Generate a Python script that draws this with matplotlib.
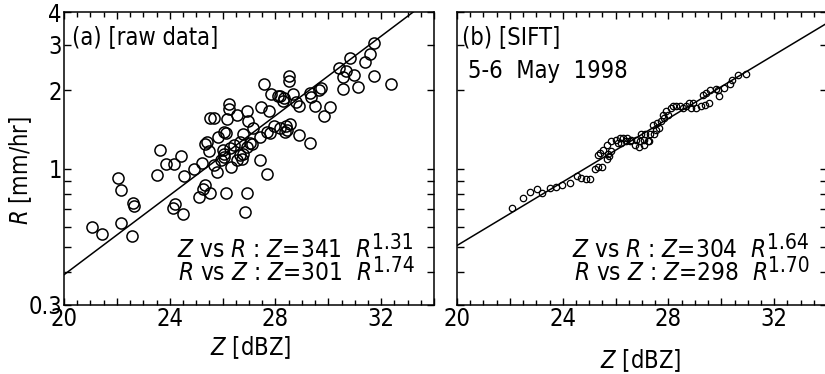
import numpy as np
import matplotlib
matplotlib.use("Agg")
import matplotlib.pyplot as plt
from matplotlib import font_manager
from matplotlib.ticker import FixedLocator, FixedFormatter, MultipleLocator, NullFormatter, FuncFormatter

plt.rcParams['font.family'] = ['DejaVu Sans']
_cond_path = font_manager.findfont(font_manager.FontProperties(family='DejaVu Sans', stretch='condensed'))
HAVE_COND = 'Condensed' in _cond_path
if HAVE_COND:
    plt.rcParams['font.stretch'] = 'condensed'
    plt.rcParams['mathtext.fontset'] = 'custom'
    plt.rcParams['mathtext.rm'] = 'DejaVu Sans:stretch=condensed'
    plt.rcParams['mathtext.it'] = 'DejaVu Sans:style=italic:stretch=condensed'
    plt.rcParams['mathtext.bf'] = 'DejaVu Sans:weight=bold:stretch=condensed'
else:
    plt.rcParams['mathtext.fontset'] = 'dejavusans'

# ---------------- data ----------------
# (a) raw data: reflectivity Z [dBZ] and rain rate R [mm/hr]
raw_z = [31.72, 31.59, 31.38, 30.81, 30.40, 30.68, 30.56, 30.96, 31.72, 32.39,
         31.12, 30.56, 29.63, 29.72, 29.32, 29.34, 29.51, 30.05, 29.82, 28.91,
         28.76, 28.65, 28.33, 28.18, 28.27, 27.83, 28.08, 28.50, 28.50, 27.55,
         27.46, 27.74, 26.92, 26.54, 26.25, 26.26, 26.16, 25.69, 25.53, 26.98,
         27.15, 26.77, 26.67, 26.44, 26.04, 26.12, 25.82, 25.40, 25.34, 25.49,
         26.01, 26.06, 26.04, 25.95, 26.29, 26.77, 27.02, 27.13, 26.92, 26.67,
         26.73, 27.42, 27.68, 27.78, 27.93, 28.18, 28.41, 28.43, 28.54, 28.38,
         28.88, 29.29, 27.40, 24.43, 24.17, 23.86, 23.64, 23.51, 24.55, 24.90,
         25.21, 25.69, 25.78, 26.31, 26.54, 27.68, 22.06, 22.16, 25.32, 25.25,
         25.51, 25.11, 26.12, 26.92, 26.86, 24.20, 24.14, 24.49, 22.60, 22.63,
         22.16, 21.05, 21.43, 22.59]
raw_r = [3.04, 2.77, 2.57, 2.67, 2.43, 2.37, 2.25, 2.29, 2.28, 2.12,
         2.06, 2.03, 2.01, 2.04, 1.96, 1.89, 1.75, 1.73, 1.60, 1.75,
         1.80, 1.93, 1.87, 1.90, 1.82, 1.93, 1.90, 2.28, 2.18, 2.12,
         1.73, 1.66, 1.66, 1.61, 1.78, 1.69, 1.56, 1.57, 1.57, 1.52,
         1.43, 1.36, 1.27, 1.23, 1.39, 1.37, 1.33, 1.27, 1.24, 1.17,
         1.18, 1.14, 1.11, 1.08, 1.20, 1.14, 1.26, 1.25, 1.21, 1.13,
         1.09, 1.33, 1.39, 1.37, 1.46, 1.43, 1.46, 1.41, 1.49, 1.39,
         1.35, 1.26, 1.08, 1.12, 1.04, 1.04, 1.18, 0.95, 0.94, 1.00,
         1.05, 1.03, 0.97, 1.02, 1.08, 0.957, 0.92, 0.83, 0.87, 0.84,
         0.81, 0.78, 0.81, 0.81, 0.68, 0.73, 0.71, 0.67, 0.74, 0.72,
         0.62, 0.60, 0.56, 0.55]

# (b) SIFT data
sift_z = [22.09, 22.48, 22.75, 23.03, 23.23, 23.51, 23.74, 23.99, 24.29, 24.54,
          24.70, 24.87, 25.02, 25.21, 25.33, 25.33, 25.40, 25.50, 25.52, 25.67,
          25.67, 25.71, 25.77, 25.84, 25.84, 26.03, 26.09, 26.15, 26.21, 26.28,
          26.38, 26.43, 26.53, 26.59, 26.72, 26.78, 26.88, 26.91, 26.97, 27.06,
          27.09, 27.13, 27.22, 27.26, 27.31, 27.41, 27.47, 27.53, 27.56, 27.66,
          27.72, 27.79, 27.85, 27.91, 27.97, 28.10, 28.19, 28.29, 28.42, 28.54,
          28.67, 28.79, 28.86, 28.92, 29.04, 29.23, 29.30, 29.40, 29.42, 29.55,
          29.57, 29.80, 29.86, 29.92, 30.11, 30.33, 30.40, 30.64, 30.93]
sift_r = [0.706, 0.772, 0.818, 0.836, 0.811, 0.843, 0.848, 0.868, 0.881, 0.935,
          0.921, 0.913, 0.913, 1.00, 1.02, 1.13, 1.149, 1.02, 1.184, 1.093,
          1.237, 1.14, 1.116, 1.166, 1.274, 1.293, 1.255, 1.312, 1.255, 1.312,
          1.274, 1.312, 1.274, 1.293, 1.237, 1.293, 1.212, 1.274, 1.364, 1.237,
          1.293, 1.364, 1.274, 1.274, 1.364, 1.477, 1.364, 1.413, 1.499, 1.434,
          1.521, 1.614, 1.567, 1.662, 1.614, 1.712, 1.738, 1.738, 1.738, 1.712,
          1.738, 1.789, 1.712, 1.789, 1.712, 1.738, 1.926, 1.763, 1.955, 1.789,
          2.014, 2.03, 2.01, 1.91, 2.04, 2.12, 2.20, 2.29, 2.32]

# fitted Z-R relations (Z = a R^b)
fit_a = [341, 304]
fit_b = [1.31, 1.64]
zr_text = [("341", "1.31", "301", "1.74"), ("304", "1.64", "298", "1.70")]
panel_titles = ["(a) [raw data]", "(b) [SIFT]"]
subtitle_b = "5-6  May  1998"

x_ticks = [20, 24, 28, 32]
y_ticks = [0.3, 1, 2, 3, 4]
y_ticklabels = ["0.3", "1", "2", "3", "4"]
y_minor = [0.4, 0.5, 0.6, 0.7, 0.8, 0.9]

# ---------------- figure ----------------
W, H = 825, 374
fig = plt.figure(figsize=(W / 100, H / 100), dpi=100)
axes_px = [(64, 69, 370, 293), (457, 69, 370, 293)]
axs = [fig.add_axes([x / W, y / H, w / W, h / H]) for (x, y, w, h) in axes_px]

if HAVE_COND:
    FS_TICK, FS_TXT, FS_ANN, FS_SUP = 17, 17, 17.5, 15
else:
    FS_TICK, FS_TXT, FS_ANN, FS_SUP = 15, 16, 15.5, 14

for i, ax in enumerate(axs):
    ax.set_yscale('log')
    ax.set_xlim(20, 34)
    ax.set_ylim(0.3, 4)
    ax.yaxis.set_major_locator(FixedLocator(y_ticks))
    ax.yaxis.set_minor_locator(FixedLocator(y_minor))
    ax.yaxis.set_minor_formatter(NullFormatter())
    if i == 0:
        ax.yaxis.set_major_formatter(FixedFormatter(y_ticklabels))
    else:
        ax.yaxis.set_major_formatter(NullFormatter())
    ax.xaxis.set_major_locator(MultipleLocator(2))
    ax.xaxis.set_minor_locator(MultipleLocator(0.5))
    ax.xaxis.set_major_formatter(FuncFormatter(lambda v, p: f"{v:.0f}" if int(round(v)) % 4 == 0 else ""))
    ax.tick_params(which='both', direction='in', top=True, right=True, width=1.0,
                   labelsize=FS_TICK, pad=1.5)
    ax.tick_params(which='major', length=5)
    ax.tick_params(which='minor', length=3.5)
    ax.tick_params(axis='y', which='minor', length=5)
    for s in ax.spines.values():
        s.set_linewidth(1.1)

    zl = np.linspace(20, 34, 200)
    rl = (10 ** (zl / 10) / fit_a[i]) ** (1 / fit_b[i])
    ax.plot(zl, rl, color='k', lw=1.1)

axs[0].plot(raw_z, raw_r, 'o', ms=8, mfc='none', mec='k', mew=1.1)
axs[1].plot(sift_z, sift_r, 'o', ms=4.6, mfc='none', mec='k', mew=0.9)

# panel titles
axs[0].text(0.022, 0.955, panel_titles[0], transform=axs[0].transAxes, ha='left', va='top', fontsize=FS_TXT)
axs[1].text(0.013, 0.955, panel_titles[1], transform=axs[1].transAxes, ha='left', va='top', fontsize=FS_TXT)
axs[1].text(0.030, 0.84, subtitle_b, transform=axs[1].transAxes, ha='left', va='top', fontsize=FS_TXT)

# Z-R relation texts
def zr_label(ax, xl, yb, lead, coef, expo):
    t = ax.text(xl, yb, lead + "=" + coef + r"$\ \ R$", transform=ax.transAxes,
                ha='left', va='baseline', fontsize=FS_ANN)
    ax.annotate(expo, xy=(1, yb), xycoords=(t, ax.transAxes), xytext=(1, 8),
                textcoords='offset pixels', ha='left', va='baseline', fontsize=FS_SUP)

for i, ax in enumerate(axs):
    c1, e1, c2, e2 = zr_text[i]
    xl = 0.305 if i == 0 else 0.312
    zr_label(ax, xl, 0.164, r"$Z$ vs $R$ : $Z$", c1, e1)
    zr_label(ax, xl + 0.003, 0.087, r"$R$ vs $Z$ : $Z$", c2, e2)

axs[0].set_ylabel(r"$R$ [mm/hr]", fontsize=FS_TXT)
axs[0].yaxis.set_label_coords(-0.082, 0.46)
axs[0].set_xlabel(r"$Z$ [dBZ]", fontsize=FS_TXT)
axs[0].xaxis.set_label_coords(0.503, -0.1)
axs[1].set_xlabel(r"$Z$ [dBZ]", fontsize=FS_TXT)
axs[1].xaxis.set_label_coords(0.495, -0.145)

fig.savefig("out.png", dpi=100)
